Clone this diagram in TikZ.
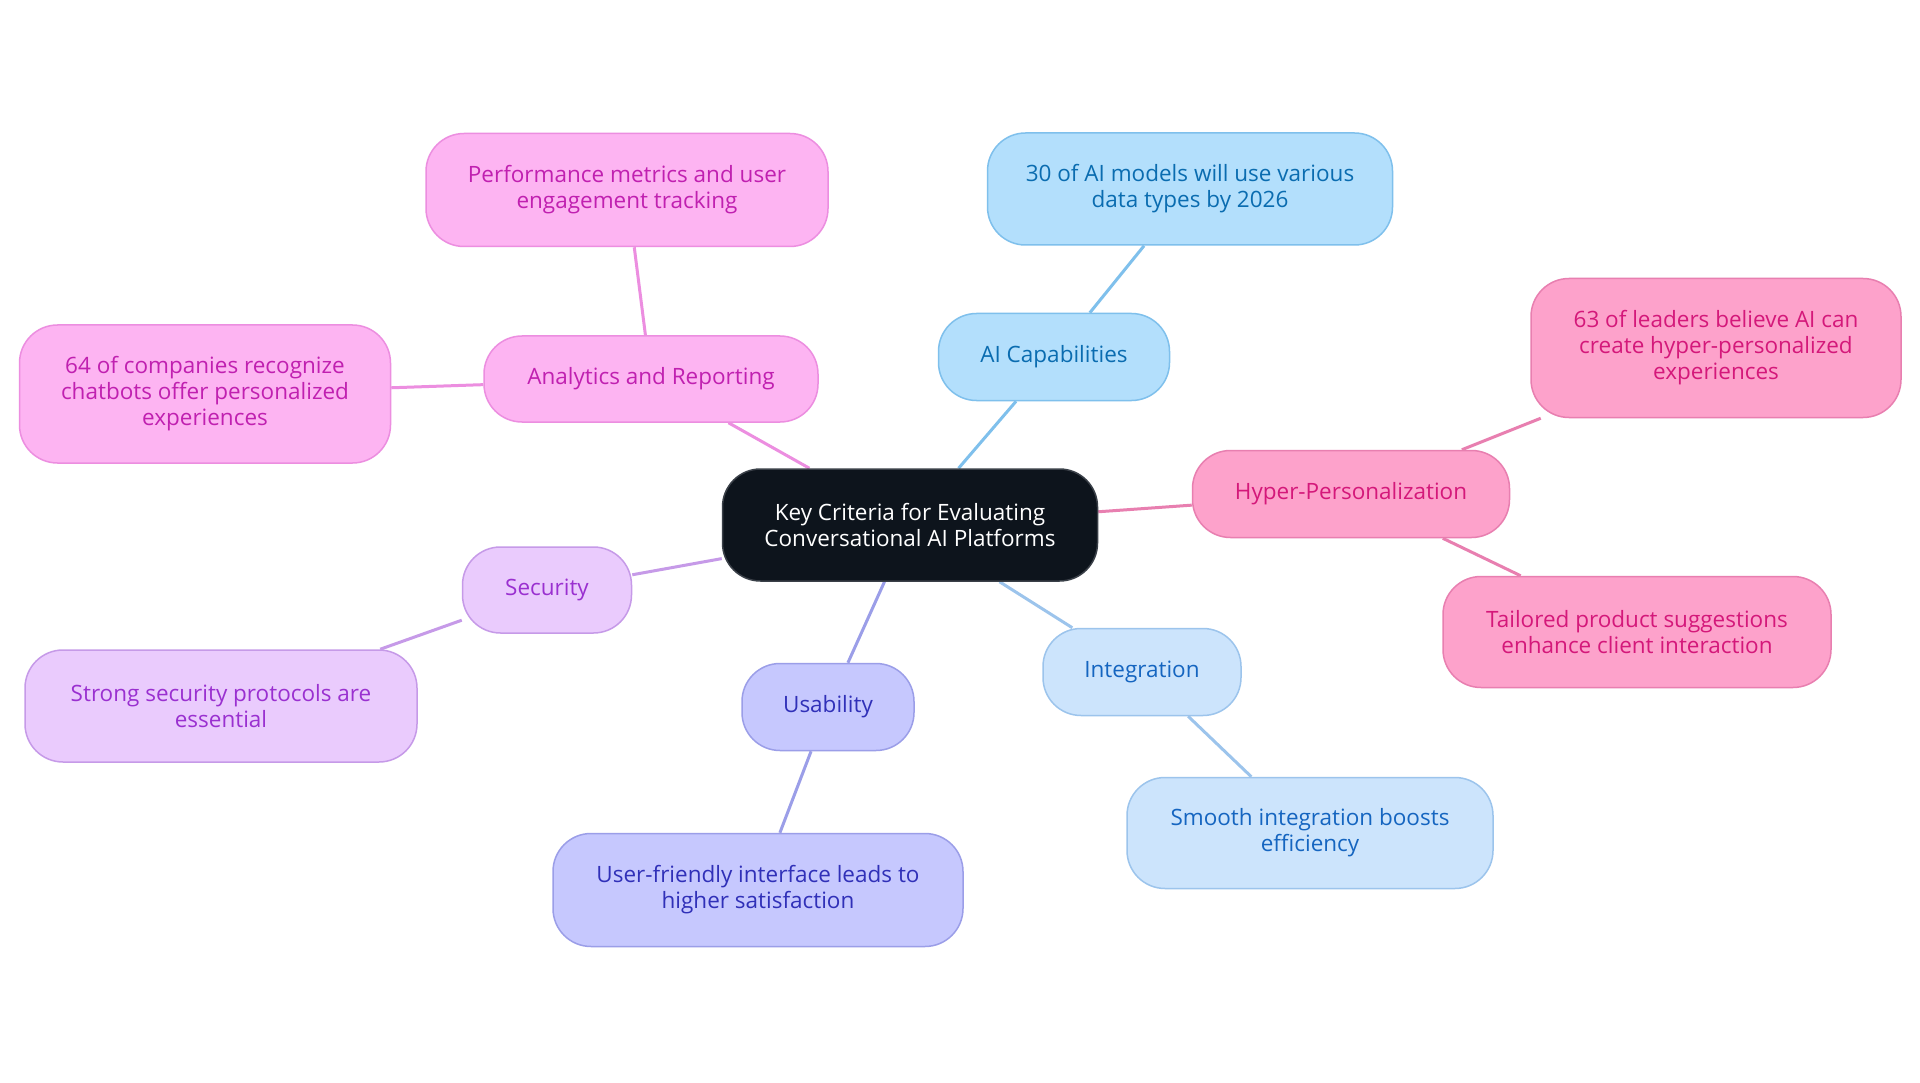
\documentclass[tikz,border=0pt]{standalone}
\usepackage{fontspec}
\setmainfont{Open Sans}
\pgfdeclarelayer{bg}
\pgfdeclarelayer{edges}
\pgfsetlayers{bg,edges,main}
\definecolor{rootfill}{HTML}{0D141C}
\definecolor{rootdraw}{HTML}{3A4048}
\definecolor{blfill}{HTML}{B3DFFC}
\definecolor{bldraw}{HTML}{7FC0EC}
\definecolor{bltext}{HTML}{0A6CB0}
\definecolor{lbfill}{HTML}{CCE4FC}
\definecolor{lbdraw}{HTML}{9CC4EC}
\definecolor{lbtext}{HTML}{1565C0}
\definecolor{pkfill}{HTML}{FDA2CB}
\definecolor{pkdraw}{HTML}{E87FB0}
\definecolor{pktext}{HTML}{D4187A}
\definecolor{mgfill}{HTML}{FDB4F2}
\definecolor{mgdraw}{HTML}{EC8EE0}
\definecolor{mgtext}{HTML}{C020B0}
\definecolor{pufill}{HTML}{EACBFD}
\definecolor{pudraw}{HTML}{C69AE8}
\definecolor{putext}{HTML}{9A30D0}
\definecolor{infill}{HTML}{C6C8FE}
\definecolor{indraw}{HTML}{9B9EE8}
\definecolor{intext}{HTML}{3030B8}
\tikzset{
  box/.style={rectangle, rounded corners=38pt, inner sep=0pt, line width=1.5pt, align=center,
    font=\fontsize{22.5}{26}\selectfont},
  rootbox/.style={box, fill=rootfill, draw=rootdraw, text=white},
  bluebox/.style={box, fill=blfill, draw=bldraw, text=bltext},
  lbluebox/.style={box, fill=lbfill, draw=lbdraw, text=lbtext},
  pinkbox/.style={box, fill=pkfill, draw=pkdraw, text=pktext},
  magbox/.style={box, fill=mgfill, draw=mgdraw, text=mgtext},
  purbox/.style={box, fill=pufill, draw=pudraw, text=putext},
  indbox/.style={box, fill=infill, draw=indraw, text=intext},
  sz/.style 2 args={minimum width=#1pt, minimum height=#2pt},
  link/.style={line width=3pt}
}
\begin{document}
\begin{tikzpicture}[x=1pt,y=-1pt]
\begin{pgfonlayer}{bg}
\fill[white] (0,0) rectangle (1920,1083);
\end{pgfonlayer}
\useasboundingbox (0,0) rectangle (1920,1083);

\node[rootbox, sz={375}{112}] (root) at (910,525) {Key Criteria for Evaluating\\Conversational AI Platforms};

\node[bluebox, sz={231}{87}] (aicap) at (1054,357) {AI Capabilities};
\node[bluebox, sz={405}{112}] (aidata) at (1190,189) {30 of AI models will use various\\data types by 2026};

\node[pinkbox, sz={317}{87}] (hyper) at (1351,494) {Hyper-Personalization};
\node[pinkbox, sz={370}{139}] (hypa) at (1716,348) {63 of leaders believe AI can\\create hyper-personalized\\experiences};
\node[pinkbox, sz={388}{111}] (hypb) at (1637,632) {Tailored product suggestions\\enhance client interaction};

\node[magbox, sz={334}{86}] (anal) at (651,379) {Analytics and Reporting};
\node[magbox, sz={402}{113}] (perf) at (627,190) {Performance metrics and user\\engagement tracking};
\node[magbox, sz={371}{138}] (comp) at (205,394) {64 of companies recognize\\chatbots offer personalized\\experiences};

\node[purbox, sz={169}{86}] (sec) at (547,590) {Security};
\node[purbox, sz={392}{112}] (strong) at (221,706) {Strong security protocols are\\essential};

\node[indbox, sz={172}{87}] (usab) at (828,707) {Usability};
\node[indbox, sz={410}{113}] (user) at (758,890) {User-friendly interface leads to\\higher satisfaction};

\node[lbluebox, sz={198}{87}] (integ) at (1142,672) {Integration};
\node[lbluebox, sz={366}{111}] (smooth) at (1310,833) {Smooth integration boosts\\efficiency};

\begin{pgfonlayer}{edges}
\draw[link, draw=bldraw] (root) -- (aicap);
\draw[link, draw=bldraw] (aicap) -- (aidata);
\draw[link, draw=pkdraw] (root) -- (hyper);
\draw[link, draw=pkdraw] (hyper) -- (hypa);
\draw[link, draw=pkdraw] (hyper) -- (hypb);
\draw[link, draw=mgdraw] (root) -- (anal);
\draw[link, draw=mgdraw] (anal) -- (perf);
\draw[link, draw=mgdraw] (anal) -- (comp);
\draw[link, draw=pudraw] (root) -- (sec);
\draw[link, draw=pudraw] (sec) -- (strong);
\draw[link, draw=indraw] (root) -- (usab);
\draw[link, draw=indraw] (usab) -- (user);
\draw[link, draw=lbdraw] (root) -- (integ);
\draw[link, draw=lbdraw] (integ) -- (smooth);
\end{pgfonlayer}
\end{tikzpicture}
\end{document}
